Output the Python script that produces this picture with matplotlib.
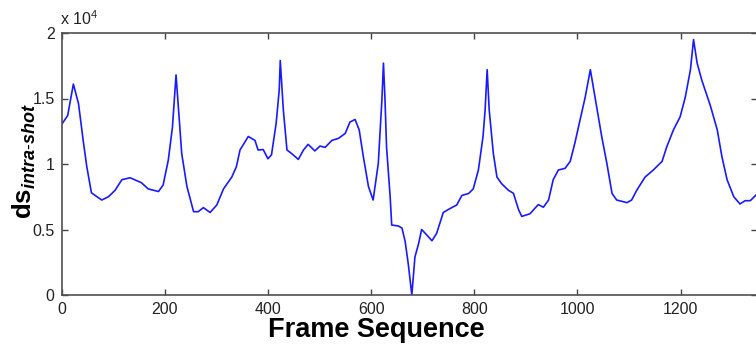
import numpy as np
import matplotlib
matplotlib.use("Agg")
import matplotlib.pyplot as plt
from matplotlib.ticker import FuncFormatter, FixedLocator

# ---- data ----
frames = [0, 12, 23, 33, 42, 49, 58, 78, 91, 104, 117, 133, 155, 168, 188, 197, 207, 215,
          222, 226, 233, 243, 256, 265, 275, 288, 301, 314, 330, 339, 346, 362, 375, 381,
          391, 400, 407, 416, 422, 424, 430, 437, 446, 459, 469, 478, 491, 501, 511, 524,
          537, 550, 559, 569, 577, 585, 595, 604, 614, 621, 624, 627, 630, 637, 640, 653,
          660, 666, 672, 679, 685, 692, 698, 708, 718, 727, 740, 753, 766, 776, 789, 798,
          808, 817, 821, 825, 829, 837, 844, 853, 866, 876, 886, 892, 908, 924, 934, 944,
          953, 963, 976, 986, 995, 1005, 1015, 1025, 1034, 1047, 1057, 1067, 1076, 1096,
          1105, 1115, 1131, 1147, 1164, 1173, 1186, 1199, 1209, 1219, 1225, 1232, 1241,
          1258, 1271, 1280, 1290, 1303, 1315, 1325, 1335, 1346]
ds_values = [13000, 13700, 16100, 14600, 11800, 9800, 7800, 7250, 7500, 8000, 8800, 8950,
             8570, 8100, 7900, 8400, 10300, 12800, 16800, 14600, 10800, 8300, 6360, 6360,
             6670, 6300, 6870, 8100, 9000, 9800, 11070, 12100, 11800, 11070, 11100, 10400,
             10700, 13100, 15650, 17900, 14100, 11070, 10800, 10350, 11070, 11500, 11000,
             11370, 11270, 11800, 11960, 12340, 13200, 13400, 12600, 10560, 8270, 7250,
             10050, 14900, 17700, 14900, 11300, 7500, 5340, 5270, 5100, 4100, 2400, 0,
             2900, 3900, 5000, 4580, 4140, 4700, 6300, 6600, 6870, 7600, 7750, 8100, 9540,
             12100, 14100, 17200, 14100, 10800, 9000, 8500, 8000, 7760, 6500, 6000, 6200,
             6900, 6700, 7250, 8800, 9540, 9670, 10200, 11600, 13360, 15100, 17200, 15100,
             12100, 10050, 7760, 7250, 7050, 7250, 8000, 9000, 9540, 10200, 11300, 12600,
             13600, 15100, 17200, 19500, 17700, 16400, 14400, 12600, 10560, 8800, 7500,
             6950, 7200, 7200, 7630]
x_ticks = [0, 200, 400, 600, 800, 1000, 1200]
y_ticks = [0, 5000, 10000, 15000, 20000]

plt.rcParams['font.family'] = ['Liberation Sans', 'DejaVu Sans']
plt.rcParams['mathtext.fontset'] = 'custom'
plt.rcParams['mathtext.rm'] = 'Liberation Sans'
plt.rcParams['mathtext.bf'] = 'Liberation Sans:bold'
plt.rcParams['mathtext.it'] = 'Liberation Sans:italic:bold'

fig = plt.figure(figsize=(7.56, 3.49), dpi=100)
ax = fig.add_axes([61.5/756, 54/349, (757-61.5)/756, 262/349])

ax.plot(frames, ds_values, color='#1a1aff', lw=1.2)
ax.set_xlim(0, 1348)
ax.set_ylim(0, 20000)

ax.xaxis.set_major_locator(FixedLocator(x_ticks))
ax.yaxis.set_major_locator(FixedLocator(y_ticks))
ax.yaxis.set_major_formatter(FuncFormatter(lambda v, p: f"{v/1e4:g}"))
ax.tick_params(direction='in', length=4, width=1, color='#444444',
               top=True, right=True, labelsize=11.5, labelcolor='#222222', pad=5)
for s in ax.spines.values():
    s.set_color('#505050')
    s.set_linewidth(1.2)

fig.text(376/756, 1 - 330/349, 'Frame Sequence', fontsize=19.5, fontweight='bold',
         ha='center', va='center')
fig.text(24/756, 1 - 161/349, r'$\mathbf{ds}_{\mathit{intra\text{-}shot}}$', rotation=90,
         fontsize=18.5, ha='center', va='center')
fig.text(60/756, 1 - 25/349, r'x 10$\mathregular{^{4}}$', fontsize=11.5,
         color='#222222', ha='left', va='baseline')

fig.savefig('out.png', dpi=100)
